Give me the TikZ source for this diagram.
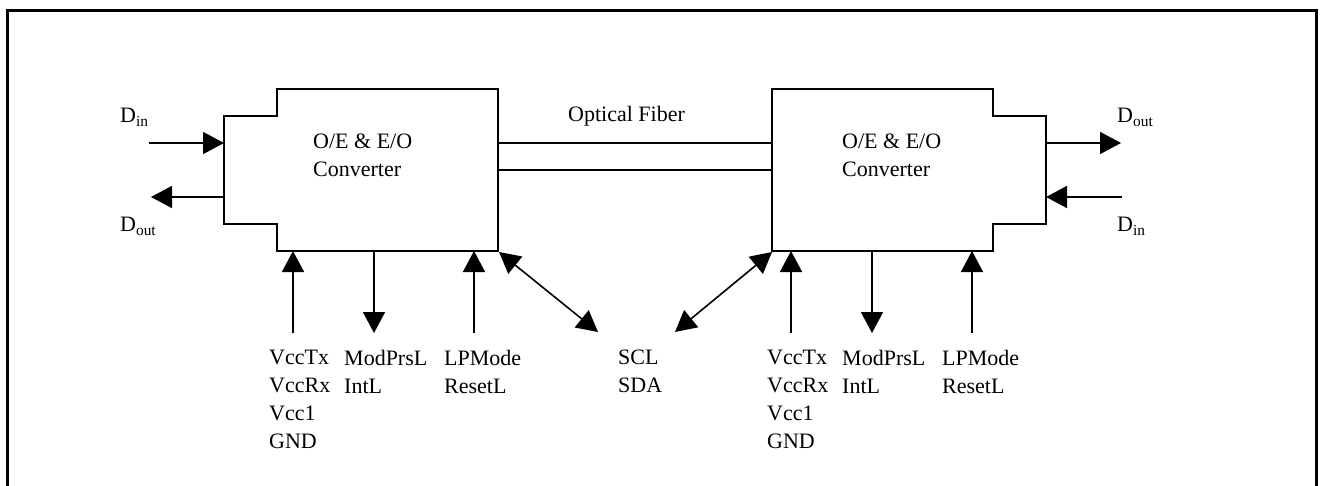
\documentclass[tikz,border=0pt]{standalone}
\usepackage{fontspec}
\setmainfont{Liberation Serif}
\usetikzlibrary{arrows.meta}

\tikzset{
  wire/.style={line width=1.6pt},
  sig/.style={wire, -{Triangle[length=21pt,width=22pt]}},
  sigboth/.style={wire, {Triangle[length=21pt,width=22pt]}-{Triangle[length=21pt,width=22pt]}},
  lbl/.style={inner sep=0pt, align=left, anchor=north west},
  tag/.style={inner sep=0pt, anchor=base west}
}

\begin{document}
\begin{tikzpicture}[x=1pt, y=-1pt, font=\fontsize{22}{28}\selectfont]
    \useasboundingbox (0,0) rectangle (1324,486);

    % frame
    \draw[line width=3pt] (7,486) -- (7,11) -- (1316,11) -- (1316,486);

    % left converter
    \draw[wire] (277,89) -- (498,89) -- (498,251) -- (277,251) -- (277,224)
        -- (224,224) -- (224,116) -- (277,116) -- cycle;
    \node (convL) at (313,134) [lbl] {O/E \& E/O\\Converter};

    \coordinate (L-in) at (224,143);
    \coordinate (L-inS) at (149,143);
    \coordinate (L-out) at (224,197);
    \coordinate (L-outE) at (151,197);
    \node (L-din) at (120,123) [tag] {D\textsubscript{in}};
    \node (L-dout) at (120,232) [tag] {D\textsubscript{out}};

    \draw[sig] (L-inS) -- (L-in);
    \draw[sig] (L-out) -- (L-outE);

    % right converter
    \draw[wire] (772,89) -- (993,89) -- (993,116) -- (1046,116) -- (1046,224)
        -- (993,224) -- (993,251) -- (772,251) -- cycle;
    \node (convR) at (842,134) [lbl] {O/E \& E/O\\Converter};

    \coordinate (R-out) at (1046,143);
    \coordinate (R-outE) at (1121,143);
    \coordinate (R-in) at (1046,197);
    \coordinate (R-inS) at (1122,197);
    \node (R-dout) at (1117,123) [tag] {D\textsubscript{out}};
    \node (R-din) at (1117,232) [tag] {D\textsubscript{in}};

    \draw[sig] (R-out) -- (R-outE);
    \draw[sig] (R-inS) -- (R-in);

    % optical fiber
    \coordinate (L-f1) at (498,143);
    \coordinate (L-f2) at (498,170);
    \coordinate (R-f1) at (772,143);
    \coordinate (R-f2) at (772,170);
    \draw[wire] (L-f1) -- (R-f1);
    \draw[wire] (L-f2) -- (R-f2);
    \node (fiber) at (568,122) [tag] {Optical Fiber};

    % left pins
    \coordinate (L-vcc) at (293,251);
    \coordinate (L-vccS) at (293,333);
    \coordinate (L-mod) at (374,251);
    \coordinate (L-modE) at (374,333);
    \coordinate (L-lp) at (474,251);
    \coordinate (L-lpS) at (474,333);
    \node (L-pwr) at (269,350) [lbl] {VccTx\\VccRx\\Vcc1\\GND};
    \node (L-stat) at (344,350) [lbl] {ModPrsL\\IntL};
    \node (L-ctrl) at (444,350) [lbl] {LPMode\\ResetL};

    \draw[sig] (L-vccS) -- (L-vcc);
    \draw[sig] (L-mod) -- (L-modE);
    \draw[sig] (L-lpS) -- (L-lp);

    % right pins
    \coordinate (R-vcc) at (791,251);
    \coordinate (R-vccS) at (791,333);
    \coordinate (R-mod) at (872,251);
    \coordinate (R-modE) at (872,333);
    \coordinate (R-lp) at (972,251);
    \coordinate (R-lpS) at (972,333);
    \node (R-pwr) at (767,350) [lbl] {VccTx\\VccRx\\Vcc1\\GND};
    \node (R-stat) at (842,350) [lbl] {ModPrsL\\IntL};
    \node (R-ctrl) at (942,350) [lbl] {LPMode\\ResetL};

    \draw[sig] (R-vccS) -- (R-vcc);
    \draw[sig] (R-mod) -- (R-modE);
    \draw[sig] (R-lpS) -- (R-lp);

    % management bus
    \coordinate (L-i2c) at (499,252);
    \coordinate (R-i2c) at (772,252);
    \coordinate (i2cL) at (598,332);
    \coordinate (i2cR) at (675,332);
    \node (i2c) at (618,350) [lbl] {SCL\\SDA};

    \draw[sigboth] (L-i2c) -- (i2cL);
    \draw[sigboth] (R-i2c) -- (i2cR);

\end{tikzpicture}
\end{document}
